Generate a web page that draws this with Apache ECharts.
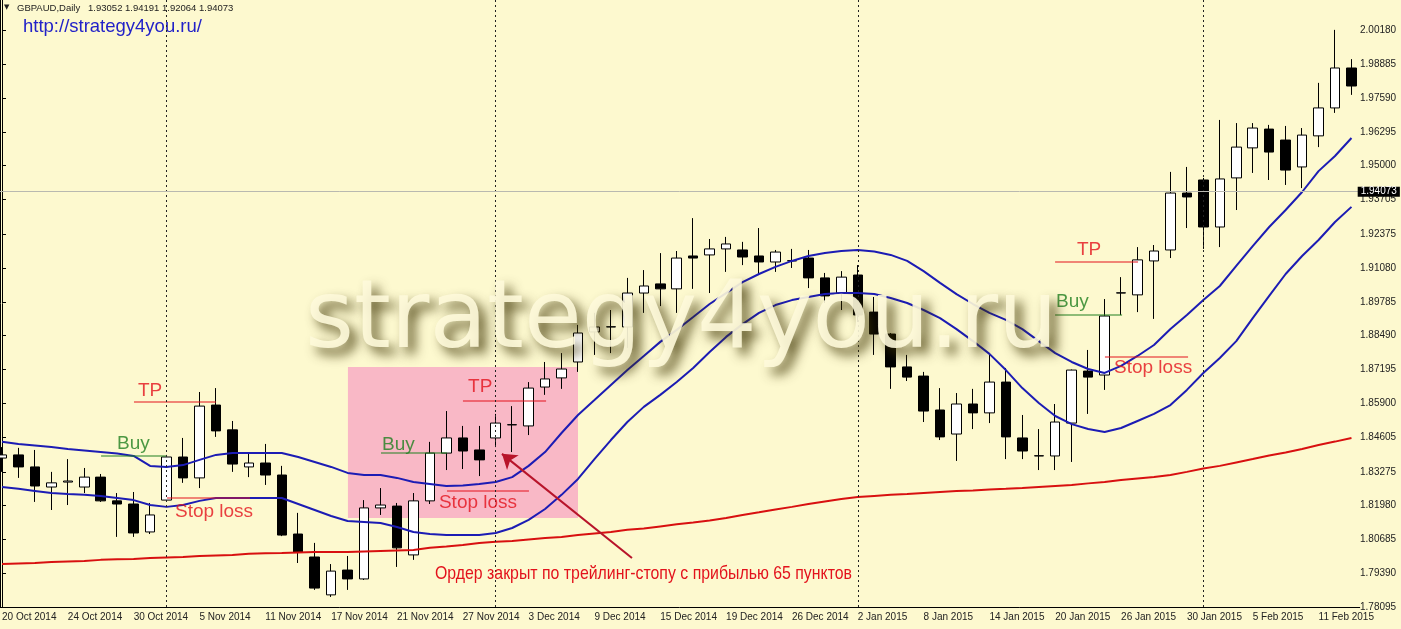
<!DOCTYPE html>
<html><head><meta charset="utf-8">
<script src="https://cdn.jsdelivr.net/npm/echarts@6/dist/echarts.min.js"></script>
<style>html,body{margin:0;padding:0;background:#fdf9cf;}#c{width:1401px;height:629px;}</style>
</head><body><div id="c"></div>
<script>
const DATES = [
 '20 Oct 2014','21 Oct 2014','22 Oct 2014','23 Oct 2014','24 Oct 2014','27 Oct 2014','28 Oct 2014','29 Oct 2014','30 Oct 2014','31 Oct 2014',
 '3 Nov 2014','4 Nov 2014','5 Nov 2014','6 Nov 2014','7 Nov 2014','10 Nov 2014','11 Nov 2014','12 Nov 2014','13 Nov 2014','14 Nov 2014',
 '17 Nov 2014','18 Nov 2014','19 Nov 2014','20 Nov 2014','21 Nov 2014','24 Nov 2014','25 Nov 2014','26 Nov 2014','27 Nov 2014','28 Nov 2014',
 '1 Dec 2014','2 Dec 2014','3 Dec 2014','4 Dec 2014','5 Dec 2014','8 Dec 2014','9 Dec 2014','10 Dec 2014','11 Dec 2014','12 Dec 2014',
 '15 Dec 2014','16 Dec 2014','17 Dec 2014','18 Dec 2014','19 Dec 2014','22 Dec 2014','23 Dec 2014','24 Dec 2014','26 Dec 2014','29 Dec 2014',
 '30 Dec 2014','31 Dec 2014','2 Jan 2015','5 Jan 2015','6 Jan 2015','7 Jan 2015','8 Jan 2015','9 Jan 2015','12 Jan 2015','13 Jan 2015',
 '14 Jan 2015','15 Jan 2015','16 Jan 2015','19 Jan 2015','20 Jan 2015','21 Jan 2015','22 Jan 2015','23 Jan 2015','26 Jan 2015','27 Jan 2015',
 '28 Jan 2015','29 Jan 2015','30 Jan 2015','2 Feb 2015','3 Feb 2015','4 Feb 2015','5 Feb 2015','6 Feb 2015','9 Feb 2015','10 Feb 2015',
 '11 Feb 2015','12 Feb 2015','13 Feb 2015'];
const OPEN = [
 1.8380,1.8392,1.8346,1.8269,1.8288,1.8269,1.8307,1.8216,1.8204,1.8097,
 1.8219,1.8384,1.8304,1.8583,1.8488,1.8346,1.8361,1.8315,1.8089,1.8001,
 1.7856,1.7951,1.7917,1.8189,1.8196,1.8009,1.8216,1.8399,1.8457,1.8411,
 1.8457,1.8507,1.8503,1.8652,1.8687,1.8748,1.8863,1.8882,1.8882,1.9012,
 1.9047,1.9028,1.9154,1.9158,1.9181,1.9177,1.9154,1.9131,1.9135,1.9146,
 1.9070,1.9012,1.9081,1.8939,1.8855,1.8729,1.8694,1.8564,1.8472,1.8587,
 1.8553,1.8671,1.8457,1.8388,1.8388,1.8514,1.8713,1.8698,1.9012,1.9005,
 1.9135,1.9177,1.9395,1.9445,1.9265,1.9453,1.9568,1.9640,1.9598,1.9495,
 1.9614,1.9721,1.9874];
const CLOSE = [
 1.8392,1.8346,1.8273,1.8285,1.8292,1.8307,1.8216,1.8204,1.8093,1.8162,
 1.8384,1.8304,1.8579,1.8484,1.8357,1.8361,1.8315,1.8085,1.8020,1.7882,
 1.7947,1.7917,1.8189,1.8200,1.8036,1.8216,1.8399,1.8457,1.8407,1.8373,
 1.8514,1.8508,1.8648,1.8683,1.8721,1.8859,1.8882,1.8883,1.9012,1.9039,
 1.9028,1.9146,1.9146,1.9181,1.9200,1.9150,1.9131,1.9169,1.9136,1.9070,
 1.9001,1.9073,1.8928,1.8855,1.8729,1.8690,1.8560,1.8461,1.8587,1.8553,
 1.8671,1.8461,1.8407,1.8389,1.8518,1.8717,1.8690,1.8924,1.9013,1.9139,
 1.9173,1.9395,1.9380,1.9265,1.9449,1.9571,1.9644,1.9552,1.9483,1.9617,
 1.9721,1.9874,1.9805];
const HIGH = [
 1.8422,1.8419,1.8411,1.8327,1.8376,1.8342,1.8319,1.8246,1.8250,1.8208,
 1.8392,1.8457,1.8633,1.8648,1.8522,1.8399,1.8434,1.8350,1.8170,1.8055,
 1.7974,1.8005,1.8219,1.8265,1.8208,1.8246,1.8442,1.8560,1.8503,1.8503,
 1.8549,1.8579,1.8671,1.8748,1.8782,1.8890,1.8936,1.8947,1.9070,1.9100,
 1.9165,1.9173,1.9299,1.9219,1.9227,1.9208,1.9261,1.9177,1.9181,1.9177,
 1.9089,1.9096,1.9119,1.8997,1.8859,1.8775,1.8710,1.8648,1.8629,1.8645,
 1.8782,1.8725,1.8545,1.8491,1.8587,1.8719,1.8794,1.8989,1.9073,1.9188,
 1.9196,1.9476,1.9495,1.9453,1.9675,1.9663,1.9663,1.9656,1.9652,1.9644,
 1.9817,2.0020,1.9908];
const LOW = [
 1.8327,1.8304,1.8212,1.8181,1.8200,1.8246,1.8212,1.8078,1.8078,1.8089,
 1.8212,1.8285,1.8265,1.8461,1.8327,1.8307,1.8277,1.8081,1.7978,1.7875,
 1.7848,1.7875,1.7913,1.8162,1.7963,1.7990,1.8204,1.8334,1.8338,1.8311,
 1.8422,1.8403,1.8468,1.8622,1.8645,1.8710,1.8775,1.8782,1.8802,1.8936,
 1.8962,1.8936,1.9028,1.9012,1.9093,1.9119,1.9081,1.9093,1.9108,1.9031,
 1.8974,1.8947,1.8901,1.8775,1.8645,1.8675,1.8518,1.8449,1.8369,1.8491,
 1.8514,1.8376,1.8376,1.8334,1.8334,1.8365,1.8549,1.8641,1.8928,1.8939,
 1.8913,1.9146,1.9261,1.9181,1.9188,1.9330,1.9472,1.9445,1.9426,1.9414,
 1.9571,1.9702,1.9771];
const UPPER_BAND = [
 1.8442,1.8434,1.8428,1.8422,1.8415,1.8409,1.8403,1.8397,1.8388,1.8350,
 1.8346,1.8353,1.8373,1.8392,1.8399,1.8399,1.8399,1.8399,1.8384,1.8365,
 1.8346,1.8323,1.8315,1.8315,1.8304,1.8288,1.8281,1.8273,1.8275,1.8281,
 1.8288,1.8307,1.8350,1.8403,1.8476,1.8545,1.8602,1.8660,1.8717,1.8771,
 1.8825,1.8871,1.8920,1.8970,1.9012,1.9054,1.9085,1.9112,1.9135,1.9154,
 1.9165,1.9173,1.9177,1.9171,1.9158,1.9135,1.9096,1.9051,1.9008,1.8970,
 1.8936,1.8909,1.8874,1.8828,1.8782,1.8748,1.8721,1.8706,1.8733,1.8771,
 1.8813,1.8874,1.8928,1.8985,1.9039,1.9116,1.9192,1.9265,1.9330,1.9399,
 1.9479,1.9537,1.9606];
const LOWER_BAND = [
 1.8269,1.8262,1.8254,1.8246,1.8242,1.8239,1.8235,1.8227,1.8219,1.8200,
 1.8193,1.8200,1.8216,1.8227,1.8227,1.8227,1.8227,1.8227,1.8204,1.8181,
 1.8158,1.8139,1.8135,1.8131,1.8116,1.8097,1.8089,1.8085,1.8085,1.8085,
 1.8093,1.8112,1.8143,1.8185,1.8239,1.8300,1.8376,1.8449,1.8518,1.8576,
 1.8622,1.8671,1.8725,1.8786,1.8844,1.8893,1.8936,1.8966,1.8985,1.8997,
 1.9008,1.9012,1.9012,1.9008,1.8993,1.8974,1.8947,1.8916,1.8874,1.8828,
 1.8779,1.8717,1.8648,1.8591,1.8541,1.8510,1.8491,1.8480,1.8495,1.8522,
 1.8549,1.8583,1.8641,1.8706,1.8763,1.8828,1.8916,1.9001,1.9085,1.9154,
 1.9215,1.9284,1.9342];
const SLOW_MA = [
 1.7974,1.7976,1.7978,1.7982,1.7984,1.7986,1.7990,1.7992,1.7993,1.7997,
 1.7999,1.8001,1.8005,1.8007,1.8009,1.8013,1.8015,1.8016,1.8018,1.8020,
 1.8020,1.8020,1.8022,1.8024,1.8026,1.8028,1.8036,1.8041,1.8047,1.8055,
 1.8059,1.8062,1.8068,1.8074,1.8078,1.8085,1.8091,1.8097,1.8105,1.8110,
 1.8118,1.8126,1.8133,1.8141,1.8150,1.8162,1.8172,1.8183,1.8193,1.8204,
 1.8214,1.8223,1.8231,1.8235,1.8239,1.8242,1.8246,1.8250,1.8254,1.8256,
 1.8260,1.8262,1.8265,1.8269,1.8273,1.8277,1.8283,1.8288,1.8296,1.8302,
 1.8307,1.8315,1.8327,1.8340,1.8350,1.8363,1.8376,1.8390,1.8401,1.8415,
 1.8430,1.8443,1.8457];
const Y_TICKS = [1.78095,1.79390,1.80685,1.81980,1.83275,1.84605,1.85900,1.87195,1.88490,
 1.89785,1.91080,1.92375,1.93705,1.95000,1.96295,1.97590,1.98885,2.00180];
const BID = 1.94073;
const HEADER = 'GBPAUD,Daily   1.93052 1.94191 1.92064 1.94073';
// trade annotations: bar-index spans and price levels
const TP_LEVELS   = [1.8595, 1.8599, 1.9131];
const TP_SPANS    = [[8.02, 13.0], [28.01, 33.06], [63.99, 69.03]];
const BUY_LEVELS  = [1.8388, 1.8399, 1.8928];
const BUY_SPANS   = [[6.02, 10.03], [23.03, 27.04], [63.99, 68.06]];
const SL_LEVELS   = [1.8227, 1.8254, 1.8767];
const SL_SPANS    = [[10.03, 15.07], [27.04, 32.02], [67.02, 72.07]];
const TP_TEXT_AT  = [[8.26, 1.8637], [28.32, 1.8652], [65.32, 1.9177]];
const BUY_TEXT_AT = [[6.99, 1.8434], [23.09, 1.8430], [64.05, 1.8978]];
const SL_TEXT_AT  = [[10.51, 1.8174], [26.55, 1.8208], [67.57, 1.8725]];
const ZONE = [[21.02, 1.8729], [35.0, 1.8150]];
const ARROW = [[38.28, 1.7997], [30.38, 1.8396]];
const NOTE_AT = [26.31, 1.7936];
const NOTE = 'Ордер закрыт по трейлинг-стопу с прибылью 65 пунктов';

const RED = '#e3121c', GREEN = '#1f7f1f', BLUE = '#1c1cb4';
const monthStarts = DATES.filter((d, i) => i > 0 && d.split(' ')[1] !== DATES[i - 1].split(' ')[1]);

const chart = echarts.init(document.getElementById('c'));
const seg = (spans, levels, color) => spans.map((s, i) => ({
  coords: [[s[0], levels[i]], [s[1], levels[i]]], lineStyle: {color: color, width: 2}
}));
const txt = (pts, name, color) => pts.map(p => ({value: p, name: name, label: {color: color}}));

chart.setOption({
  animation: false,
  backgroundColor: '#fdf9cf',
  grid: {left: -6.23, right: 41.3, top: 0, bottom: 22, outerBoundsMode: 'none', containLabel: false},
  xAxis: [
    {type: 'category', data: DATES, boundaryGap: true,
     axisLine: {lineStyle: {color: '#000', width: 1}},
     axisTick: {alignWithLabel: true, interval: 3, length: 4, lineStyle: {color: '#000'}},
     axisLabel: {interval: 3, align: 'left', margin: 5, fontSize: 10, color: '#222', fontFamily: 'Liberation Sans'},
     splitLine: {show: false}},
    {type: 'value', min: -0.5, max: 82.5, show: false}
  ],
  yAxis: {type: 'value', position: 'right', offset: -3.7, min: 1.78095, max: 2.01344,
    splitLine: {show: false},
    axisLine: {show: true, lineStyle: {color: '#000'}},
    axisTick: {show: true, length: 4, customValues: Y_TICKS, lineStyle: {color: '#000'}},
    axisLabel: {customValues: Y_TICKS, formatter: v => v.toFixed(5), margin: 4, fontSize: 10,
      color: '#222', fontFamily: 'Liberation Sans'}},
  graphic: [
    {id: 'frame', type: 'line', shape: {x1: 0.5, y1: 0, x2: 0.5, y2: 607}, style: {stroke: '#000', lineWidth: 1}},
    {id: 'tri', type: 'text', x: 4, y: 4, style: {text: '▼', font: '7px "DejaVu Sans"', fill: '#222'}},
    {id: 'head', type: 'text', x: 17, y: 3, style: {text: HEADER, font: '9.5px "Liberation Sans"', fill: '#222'}},
    {id: 'url', type: 'text', x: 23, y: 17, style: {text: 'http://strategy4you.ru/', font: '18.5px "Liberation Sans"', fill: '#2222c8'}},
    {id: 'mark', type: 'text', x: 305, y: 323, z: 100,
     style: {text: 'strategy4you.ru', font: '94px "DejaVu Sans"', fill: 'rgba(254,250,218,0.9)',
       verticalAlign: 'middle', textVerticalAlign: 'middle',
       textShadowColor: 'rgba(60,50,0,0.9)', textShadowBlur: 12, textShadowOffsetX: 7, textShadowOffsetY: 7}}
  ],
  series: [
    {type: 'scatter', xAxisIndex: 1, yAxisIndex: 0, data: [], z: 0, silent: true,
     markArea: {silent: true, itemStyle: {color: '#f9b8c6', opacity: 1},
       data: [[{coord: ZONE[0]}, {coord: ZONE[1]}]]}},
    {type: 'candlestick', name: 'GBPAUD', xAxisIndex: 0, yAxisIndex: 0, z: 2, barWidth: 10,
     data: OPEN.map((o, i) => [o, CLOSE[i], LOW[i], HIGH[i]]),
     itemStyle: {color: '#ffffff', color0: '#000000', borderColor: '#000000', borderColor0: '#000000', borderWidth: 1},
     markLine: {silent: true, symbol: 'none', animation: false,
       data: [
         ...monthStarts.map(d => ({xAxis: d, label: {show: false},
            lineStyle: {color: '#222', type: [2, 3], width: 1}})),
         {yAxis: BID, lineStyle: {color: '#b9b9b0', type: 'solid', width: 1},
          label: {show: true, position: 'end', formatter: '1.94073', distance: -2, backgroundColor: '#000',
            color: '#fff', padding: [0, 3, 0, 3], fontSize: 10, fontFamily: 'Liberation Sans'}}
       ]}},
    {type: 'line', name: 'Upper', data: UPPER_BAND, showSymbol: false, z: 3,
     lineStyle: {color: BLUE, width: 2}, itemStyle: {color: BLUE}},
    {type: 'line', name: 'Lower', data: LOWER_BAND, showSymbol: false, z: 3,
     lineStyle: {color: BLUE, width: 2}, itemStyle: {color: BLUE}},
    {type: 'line', name: 'Slow MA', data: SLOW_MA, showSymbol: false, z: 3,
     lineStyle: {color: '#d81010', width: 2}, itemStyle: {color: '#d81010'}},
    {type: 'lines', coordinateSystem: 'cartesian2d', xAxisIndex: 1, yAxisIndex: 0, z: 4,
     data: [...seg(TP_SPANS, TP_LEVELS, RED), ...seg(BUY_SPANS, BUY_LEVELS, GREEN), ...seg(SL_SPANS, SL_LEVELS, RED)]},
    {type: 'lines', coordinateSystem: 'cartesian2d', xAxisIndex: 1, yAxisIndex: 0, z: 6,
     symbol: ['none', 'arrow'], symbolSize: 14,
     lineStyle: {color: '#b8142a', width: 2, opacity: 1},
     data: [{coords: ARROW}]},
    {type: 'scatter', xAxisIndex: 1, yAxisIndex: 0, z: 5, symbolSize: 0,
     label: {show: true, position: 'right', distance: 0, formatter: '{b}', fontSize: 19, fontFamily: 'Liberation Sans'},
     data: [...txt(TP_TEXT_AT, 'TP', RED), ...txt(BUY_TEXT_AT, 'Buy', GREEN), ...txt(SL_TEXT_AT, 'Stop loss', RED)]}
  ]
});

// narrow caption: placed through the chart's own scales, squeezed horizontally like Arial Narrow
const notePx = chart.convertToPixel({xAxisIndex: 1, yAxisIndex: 0}, NOTE_AT);
const ctx = document.createElement('canvas').getContext('2d');
ctx.font = '19px "Liberation Sans"';
const noteScale = 417 / ctx.measureText(NOTE).width;
chart.setOption({graphic: [
  {id: 'note', type: 'text', x: notePx[0], y: notePx[1], scaleX: noteScale, z: 50,
   style: {text: NOTE, font: '19px "Liberation Sans"', fill: RED, verticalAlign: 'middle', textVerticalAlign: 'middle'}}
]});
</script>
</body></html>
